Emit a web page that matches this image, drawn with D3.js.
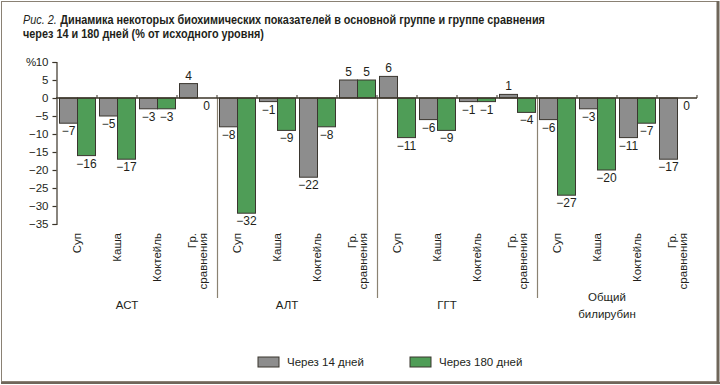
<html>
  <head>
    <meta charset="utf-8">
    <script src="https://d3js.org/d3.v7.min.js"></script>
    <style type="text/css">
      body {
        margin: 0;
        padding: 0;
        background: #fff;
      }
      svg text {
        font-family: 'Liberation Sans', Arial, sans-serif;
        fill: #231f1a;
      }
    </style>
  </head>
  <body>
    <svg id="chart" width="720" height="385"></svg>

    <script>
      // data
      const groups = ['АСТ', 'АЛТ', 'ГГТ', 'Общий билирубин']
      const categories = ['Суп', 'Каша', 'Коктейль', 'Гр. сравнения']
      const seriesNames = ['Через 14 дней', 'Через 180 дней']
      const after14 = [
        [-7, -5, -3, 4],
        [-8, -1, -22, 5],
        [6, -6, -1, 1],
        [-6, -3, -11, -17]
      ]
      const after180 = [
        [-16, -17, -3, 0],
        [-32, -9, -8, 5],
        [-11, -9, -1, -4],
        [-27, -20, -7, 0]
      ]
      const yTicks = [10, 5, 0, -5, -10, -15, -20, -25, -30, -35]

      const colors = ['#8d8d8d', '#4f9d57']
      const barStroke = '#3a362f'
      const axisColor = '#3b3429'

      const svg = d3.select('#chart')

      /* frame */
      svg.append('rect').attr('x', 1.5).attr('y', 1.5).attr('width', 716).attr('height', 380)
        .attr('fill', 'none').attr('stroke', '#8a8174').attr('stroke-width', 1)
      svg.append('line').attr('x1', 718).attr('x2', 718).attr('y1', 1).attr('y2', 384)
        .attr('stroke', '#6f665a').attr('stroke-width', 3)
      svg.append('line').attr('x1', 1).attr('x2', 720).attr('y1', 383).attr('y2', 383)
        .attr('stroke', '#6f665a').attr('stroke-width', 2)

      /* title (condensed look: squeeze horizontally) */
      const titleG = svg.append('g').attr('transform', 'translate(23,0) scale(0.87,1)')
      const fig = titleG.append('text').attr('x', 0).attr('y', 24)
        .style('font-size', '12.5px').style('font-style', 'italic').text('Рис. 2.')
      const figW = fig.node().getComputedTextLength()
      titleG.append('text').attr('x', figW + 4).attr('y', 24)
        .style('font-size', '12.5px').style('font-weight', 'bold')
        .text('Динамика некоторых биохимических показателей в основной группе и группе сравнения')
      titleG.append('text').attr('x', 0).attr('y', 38.5)
        .style('font-size', '12.5px').style('font-weight', 'bold')
        .text('через 14 и 180 дней (% от исходного уровня)')

      /* scales */
      const x0 = d3.scaleBand().domain(groups).range([57, 697])
      const x1 = d3.scaleBand().domain(categories).range([0, x0.bandwidth()])
      const x2 = d3.scaleBand().domain(seriesNames).range([2.5, x1.bandwidth() - 1.5])
      const y = d3.scaleLinear().domain([-35, 10]).range([224, 62])

      /* y axis */
      const yAxis = svg.append('g').attr('transform', 'translate(56.5,0)')
        .call(d3.axisLeft(y).tickValues(yTicks).tickSize(4).tickPadding(4)
          .tickFormat(d => d < 0 ? '−' + Math.abs(d) : d))
      yAxis.select('.domain').attr('stroke', axisColor).attr('stroke-width', 1.2)
      yAxis.selectAll('line').attr('stroke', axisColor).attr('stroke-width', 1.2)
      yAxis.selectAll('text').style('font-size', '11.5px').attr('fill', '#231f1a')
      svg.append('text').attr('x', 26).attr('y', y(10) + 4)
        .style('font-size', '11.5px').text('%')

      /* group dividers */
      svg.selectAll('.divider')
        .data(groups.slice(1))
        .join('line')
        .attr('class', 'divider')
        .attr('x1', d => x0(d) + 0.5).attr('x2', d => x0(d) + 0.5)
        .attr('y1', y(0)).attr('y2', 298)
        .attr('stroke', '#8b8272').attr('stroke-width', 1.2)

      /* bars */
      const rows = []
      groups.forEach((g, gi) => {
        categories.forEach((c, ci) => {
          rows.push({ g, c, s: seriesNames[0], v: after14[gi][ci], i: 0 })
          rows.push({ g, c, s: seriesNames[1], v: after180[gi][ci], i: 1 })
        })
      })

      const barX = d => x0(d.g) + x1(d.c) + x2(d.s)

      svg.append('g').selectAll('rect')
        .data(rows.filter(d => d.v !== 0))
        .join('rect')
        .attr('x', barX)
        .attr('width', x2.bandwidth())
        .attr('y', d => y(Math.max(0, d.v)))
        .attr('height', d => Math.abs(y(d.v) - y(0)))
        .attr('fill', d => colors[d.i])
        .attr('stroke', barStroke)
        .attr('stroke-width', 1)

      svg.append('g').selectAll('text')
        .data(rows)
        .join('text')
        .attr('x', d => barX(d) + x2.bandwidth() / 2)
        .attr('y', d => d.v > 0 ? y(d.v) - 4 : y(d.v) + 12)
        .attr('text-anchor', 'middle')
        .style('font-size', '12px')
        .text(d => d.v < 0 ? '−' + Math.abs(d.v) : d.v)

      /* x axis line + ticks */
      svg.append('line').attr('x1', 56).attr('x2', 697).attr('y1', y(0)).attr('y2', y(0))
        .attr('stroke', axisColor).attr('stroke-width', 1.4)
      const bounds = []
      groups.forEach(g => categories.forEach(c => bounds.push(x0(g) + x1(c) + x1.bandwidth())))
      svg.append('g').selectAll('line')
        .data(bounds)
        .join('line')
        .attr('x1', d => d).attr('x2', d => d)
        .attr('y1', y(0) - 3).attr('y2', y(0))
        .attr('stroke', axisColor).attr('stroke-width', 1)

      /* category labels */
      const catG = svg.append('g')
      groups.forEach(g => {
        categories.forEach(c => {
          const cx = x0(g) + x1(c) + x1.bandwidth() / 2
          const lines = c.split(' ')
          lines.forEach((ln, li) => {
            const off = (li - (lines.length - 1) / 2) * 11
            catG.append('text')
              .attr('transform', `translate(${cx + off + 4},233) rotate(-90)`)
              .attr('text-anchor', 'end')
              .style('font-size', '11.5px')
              .text(ln)
          })
        })
      })

      /* group labels */
      groups.forEach(g => {
        const words = g.split(' ')
        const lines = words.length > 1 ? words : [g]
        lines.forEach((ln, li) => {
          svg.append('text')
            .attr('x', x0(g) + x0.bandwidth() / 2 - 10)
            .attr('y', 309 + (li - (lines.length - 1) / 2) * 17)
            .attr('text-anchor', 'middle')
            .style('font-size', '11.5px')
            .text(ln)
        })
      })

      /* legend */
      const legend = svg.append('g')
      const legendX = [258, 410]
      seriesNames.forEach((s, i) => {
        legend.append('rect')
          .attr('x', legendX[i]).attr('y', 357).attr('width', 21).attr('height', 10)
          .attr('fill', colors[i]).attr('stroke', barStroke).attr('stroke-width', 1)
        legend.append('text')
          .attr('x', legendX[i] + 29).attr('y', 366)
          .style('font-size', '11.5px')
          .text(s)
      })
    </script>
  </body>
</html>
